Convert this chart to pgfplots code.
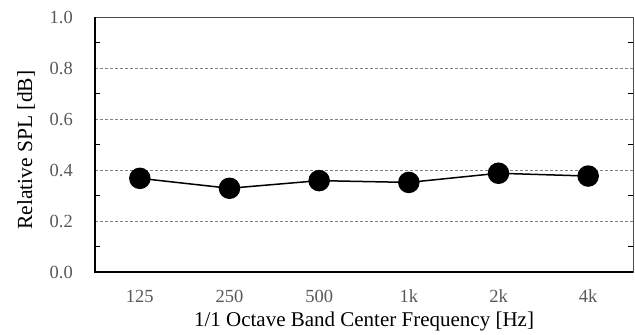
\documentclass[border=0pt]{standalone}
\usepackage{pgfplots}
\pgfplotsset{compat=1.18}
\usepackage{fontspec}
\setmainfont{Liberation Serif}
\definecolor{ticklab}{HTML}{595959}
\definecolor{gridc}{HTML}{808080}
\begin{document}
\begin{tikzpicture}
\path[use as bounding box] (-95bp,-63bp) rectangle (540bp,272bp);
\begin{axis}[
  scale only axis,
  width=538bp, height=254.5bp,
  xmin=-0.5, xmax=5.5,
  ymin=0, ymax=1,
  xtick={0,1,2,3,4,5},
  xticklabels={125,250,500,1k,2k,4k},
  ytick={0,0.2,0.4,0.6,0.8,1.0},
  minor ytick={0.1,0.3,0.5,0.7,0.9},
  /pgf/number format/fixed,
  /pgf/number format/fixed zerofill,
  /pgf/number format/precision=1,
  /pgf/number format/assume math mode=true,
  major tick length=0pt,
  minor tick length=5bp,
  tick align=inside,
  xtick style={draw=none},
  ytick style={black, line width=1bp},
  ymajorgrids,
  major grid style={gridc, dash pattern=on 3bp off 2bp, line width=0.8bp},
  axis line style={black!70, line width=1bp},
  xticklabel style={font=\fontsize{18.5bp}{21bp}\selectfont, text=ticklab, anchor=base, inner sep=0pt, yshift=-30bp},
  yticklabel style={font=\fontsize{18.5bp}{21bp}\selectfont, text=ticklab, anchor=east, inner sep=0pt, xshift=-22bp},
  xlabel={1/1 Octave Band Center Frequency [Hz]},
  ylabel={Relative SPL [dB]},
  every axis x label/.style={at={(axis description cs:0.5,-0.196)}, anchor=center, font=\fontsize{21bp}{24bp}\selectfont, text=black},
  every axis y label/.style={at={(axis description cs:-0.128,0.479)}, anchor=center, rotate=90, font=\fontsize{21.5bp}{24bp}\selectfont, text=black},
  clip=false,
]
\addplot[black, line width=1.5bp, mark=*, mark size=10bp, mark options={fill=black}]
  coordinates {(0,0.368) (1,0.329) (2,0.359) (3,0.352) (4,0.388) (5,0.377)};
\draw[black, line width=2bp] (axis description cs:0,1) -- (axis description cs:0,0) -- (axis description cs:1,0);
\end{axis}
\end{tikzpicture}
\end{document}
